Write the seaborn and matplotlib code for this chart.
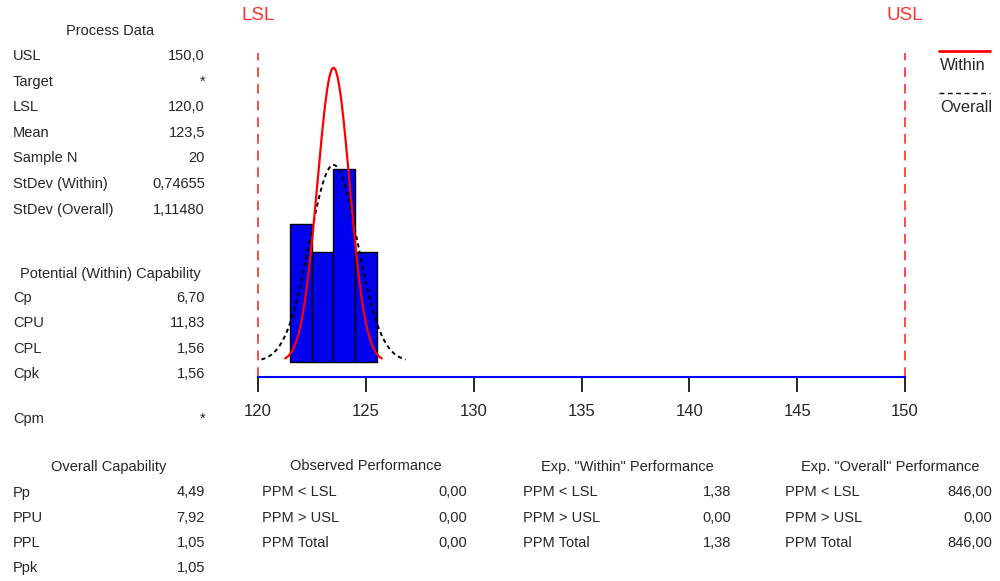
import numpy as np
import matplotlib
matplotlib.use("Agg")
import matplotlib.pyplot as plt
from matplotlib.lines import Line2D
import seaborn as sns

# ---------------- data ----------------
bin_centers = [122, 123, 124, 125]
bin_counts = [5, 4, 7, 4]
lsl, usl = 120.0, 150.0
mean = 123.5
n_sample = 20
sd_within = 0.74655
sd_overall = 1.11480
x_ticks = [120, 125, 130, 135, 140, 145, 150]

process_labels = ["USL", "Target", "LSL", "Mean", "Sample N", "StDev (Within)", "StDev (Overall)"]
process_values = ["150,0", "*", "120,0", "123,5", "20", "0,74655", "1,11480"]
within_labels = ["Cp", "CPU", "CPL", "Cpk"]
within_values = ["6,70", "11,83", "1,56", "1,56"]
cpm_label, cpm_value = "Cpm", "*"
overall_labels = ["Pp", "PPU", "PPL", "Ppk"]
overall_values = ["4,49", "7,92", "1,05", "1,05"]
ppm_labels = ["PPM < LSL", "PPM > USL", "PPM Total"]
observed_values = ["0,00", "0,00", "0,00"]
exp_within_values = ["1,38", "0,00", "1,38"]
exp_overall_values = ["846,00", "0,00", "846,00"]

# ---------------- style ----------------
sns.set_style("white")
plt.rcParams["font.family"] = ["Liberation Sans", "DejaVu Sans"]
plt.rcParams["lines.scale_dashes"] = False

W, H = 1000, 581
fig = plt.figure(figsize=(W / 100, H / 100), dpi=100)
fig.patch.set_facecolor("white")


def fx(px):
    return px / W


def fy(py):
    return 1 - py / H


axis_y = 377.3
top_y = 53
ax = fig.add_axes([fx(258), fy(axis_y), (905 - 258) / W, (axis_y - top_y) / H])
ax.set_facecolor("white")

# histogram
sns.histplot(x=bin_centers, weights=bin_counts, discrete=True, color="#0000f0",
             edgecolor="black", linewidth=1.0, alpha=1.0, ax=ax)


def normal_curve(mu, sd):
    xs = np.linspace(mu - 3 * sd, mu + 3 * sd, 300)
    ys = n_sample * 1.0 * np.exp(-0.5 * ((xs - mu) / sd) ** 2) / (sd * np.sqrt(2 * np.pi))
    return xs, ys


xo, yo = normal_curve(mean, sd_overall)
sns.lineplot(x=xo, y=yo, color="black", linewidth=1.4, linestyle=(0, (3.0, 2.5)), ax=ax)
xw, yw = normal_curve(mean, sd_within)
sns.lineplot(x=xw, y=yw, color="#ff0000", linewidth=1.6, ax=ax)

# spec limits
for v, name in [(lsl, "LSL"), (usl, "USL")]:
    ax.axvline(v, color="#ff3b3b", linewidth=1.3, linestyle=(0, (7, 5)), clip_on=False, zorder=1)
    ax.text(v, 1 + (top_y - 16) / (axis_y - top_y), name, transform=ax.get_xaxis_transform(),
            ha="center", va="center", color="#ff3030", fontsize=13.5, clip_on=False)

px_per_count = 27.5
base_y = 361.7
ax.set_ylim(-(axis_y - base_y) / px_per_count, (base_y - top_y) / px_per_count)
ax.set_xlim(lsl, usl)
ax.set_xticks(x_ticks)
ax.set_xticklabels([str(t) for t in x_ticks])
ax.set_yticks([])
ax.set_xlabel("")
ax.set_ylabel("")
for s in ["top", "left", "right"]:
    ax.spines[s].set_visible(False)
ax.spines["bottom"].set_color("#0000ff")
ax.spines["bottom"].set_linewidth(1.5)
ax.tick_params(axis="x", length=10.5, width=1.2, color="black", pad=9, labelsize=12,
               direction="out", bottom=True)

# legend (manual)
fig.add_artist(Line2D([fx(939), fx(990)], [fy(51), fy(51)], color="#ff0000", linewidth=2.0))
fig.text(fx(940), fy(65), "Within", ha="left", va="center", fontsize=11.8)
fig.add_artist(Line2D([fx(939), fx(990)], [fy(93), fy(93)], color="black", linewidth=1.0,
                      linestyle=(0, (3.5, 2.5))))
fig.text(fx(940), fy(107), "Overall", ha="left", va="center", fontsize=11.8)

# text panels
fs = 10.5


def table(title, title_x, title_y, labels, values, lab_x, val_x, y0, dy=25.5):
    if title:
        fig.text(fx(title_x), fy(title_y), title, ha="center", va="center", fontsize=fs)
    for i, (l, v) in enumerate(zip(labels, values)):
        y = y0 + i * dy
        fig.text(fx(lab_x), fy(y), l, ha="left", va="center", fontsize=fs)
        fig.text(fx(val_x), fy(y), v, ha="right", va="center", fontsize=fs)


table("Process Data", 110, 31, process_labels, process_values, 13, 205, 56, 25.6)
table("Potential (Within) Capability", 110, 274, within_labels, within_values, 13, 205, 298, 25.3)
table(None, 0, 0, [cpm_label], [cpm_value], 13, 205, 419)
table("Overall Capability", 109, 466.5, overall_labels, overall_values, 13, 205, 492.5, 25.3)
table("Observed Performance", 366, 466.5, ppm_labels, observed_values, 262, 467, 492.5, 25.3)
table('Exp. "Within" Performance', 627, 466.5, ppm_labels, exp_within_values, 523, 731, 492.5, 25.3)
table('Exp. "Overall" Performance', 890, 466.5, ppm_labels, exp_overall_values, 785, 992, 492.5, 25.3)

fig.savefig("out.png", dpi=100, facecolor="white")
